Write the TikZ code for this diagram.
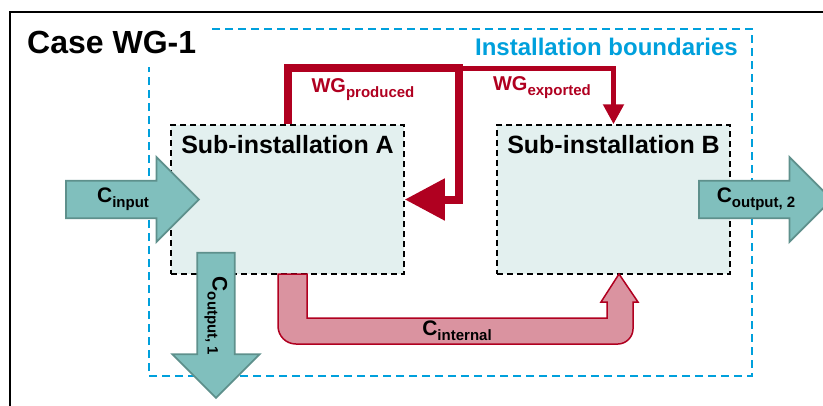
\documentclass[tikz,border=0pt]{standalone}
\usepackage{fontspec}
\setmainfont{Liberation Sans}
\usetikzlibrary{arrows.meta,shapes.arrows}

\definecolor{wgred}{RGB}{176,0,32}
\definecolor{wgpink}{RGB}{218,147,160}
\definecolor{cteal}{RGB}{128,191,189}
\definecolor{ctealdark}{RGB}{94,144,140}
\definecolor{boxfill}{RGB}{227,240,239}
\definecolor{bndblue}{RGB}{0,160,220}

% lowered index for the flow names
\newcommand{\lowidx}[1]{\raisebox{-5pt}{\fontsize{15}{15}\selectfont #1}}

\begin{document}
\begin{tikzpicture}
  [x=1pt,y=-1pt,font=\bfseries,
   subbox/.style={draw,dash pattern=on 6pt off 4pt,line width=1.5pt,fill=boxfill,
     minimum width=233pt,minimum height=149pt},
   carrow/.style={single arrow,draw=ctealdark,fill=cteal,line width=1.8pt,
     single arrow head extend=18pt,minimum width=85pt,minimum height=133pt,inner sep=2pt,
     font=\bfseries\fontsize{21}{21}\selectfont},
   wgline/.style={draw=wgred,line join=miter},
   wglabel/.style={text=wgred,font=\bfseries\fontsize{20}{20}\selectfont}]
  \useasboundingbox (0,0) rectangle (823,405);

  % frame and title
  \draw[line width=1.5pt] (10,410) -- (10,12) -- (830,12);
  \node[anchor=base west,inner sep=0pt,font=\bfseries\fontsize{32}{32}\selectfont] (title) at (27,53) {Case WG-1};

  % installation boundaries
  \draw[bndblue,line width=1.5pt,dash pattern=on 8pt off 5pt] (212,29) -- (752,29) -- (752,376) -- (149,376) -- (149,67);
  \node[anchor=base east,inner sep=0pt,text=bndblue,font=\bfseries\fontsize{24}{24}\selectfont] (bnd) at (738,55) {Installation boundaries};

  % sub-installations
  \foreach \n/\x in {A/287.5,B/613.5} {
    \node[subbox] (\n) at (\x,199.5) {};
    \node[anchor=base,inner sep=0pt,font=\bfseries\fontsize{25}{25}\selectfont] (lab\n) at ([yshift=-29pt]\n.north) {Sub-installation \n};
  }

  % waste gas
  \coordinate (wgtop) at (459,68);
  \draw[wgline,line width=5pt,-{Triangle[length=20pt,width=20pt]}] (wgtop) -| (B.north);
  \draw[wgline,line width=8pt,-{Triangle[length=40pt,width=40pt]}] (A.north) |- (wgtop) |- (A.east);
  \node[wglabel] (wgp) at (363,90) {WG\lowidx{produced}};
  \node[wglabel] (wge) at (542,88) {WG\lowidx{exported}};

  % internal carbon flow A -> B
  \draw[wgred,fill=wgpink,line width=1.5pt]
    (278,274) -- (278,326) .. controls (278,336) and (286,344) .. (296,344)
    -- (618,344) .. controls (626,344) and (633,337) .. (633,329)
    -- (633,302) -- (638,302) -- (619,274) -- (601,302) -- (607,302)
    -- (607,318) -- (307,318) -- (307,274) -- cycle;
  \node[font=\bfseries\fontsize{21}{21}\selectfont] (cint) at (457,331) {C\lowidx{internal}};

  % carbon in and out
  \node[carrow] (cin) at (123,199.5) {C\lowidx{input}};
  \node[carrow] (cout2) at (756,199.5) {C\lowidx{output, 2}};
  \node[carrow,rotate=-90,minimum height=145pt,minimum width=87pt,single arrow head extend=19pt] (cout1) at (216,316) {C\lowidx{output, 1}};

\end{tikzpicture}
\end{document}
